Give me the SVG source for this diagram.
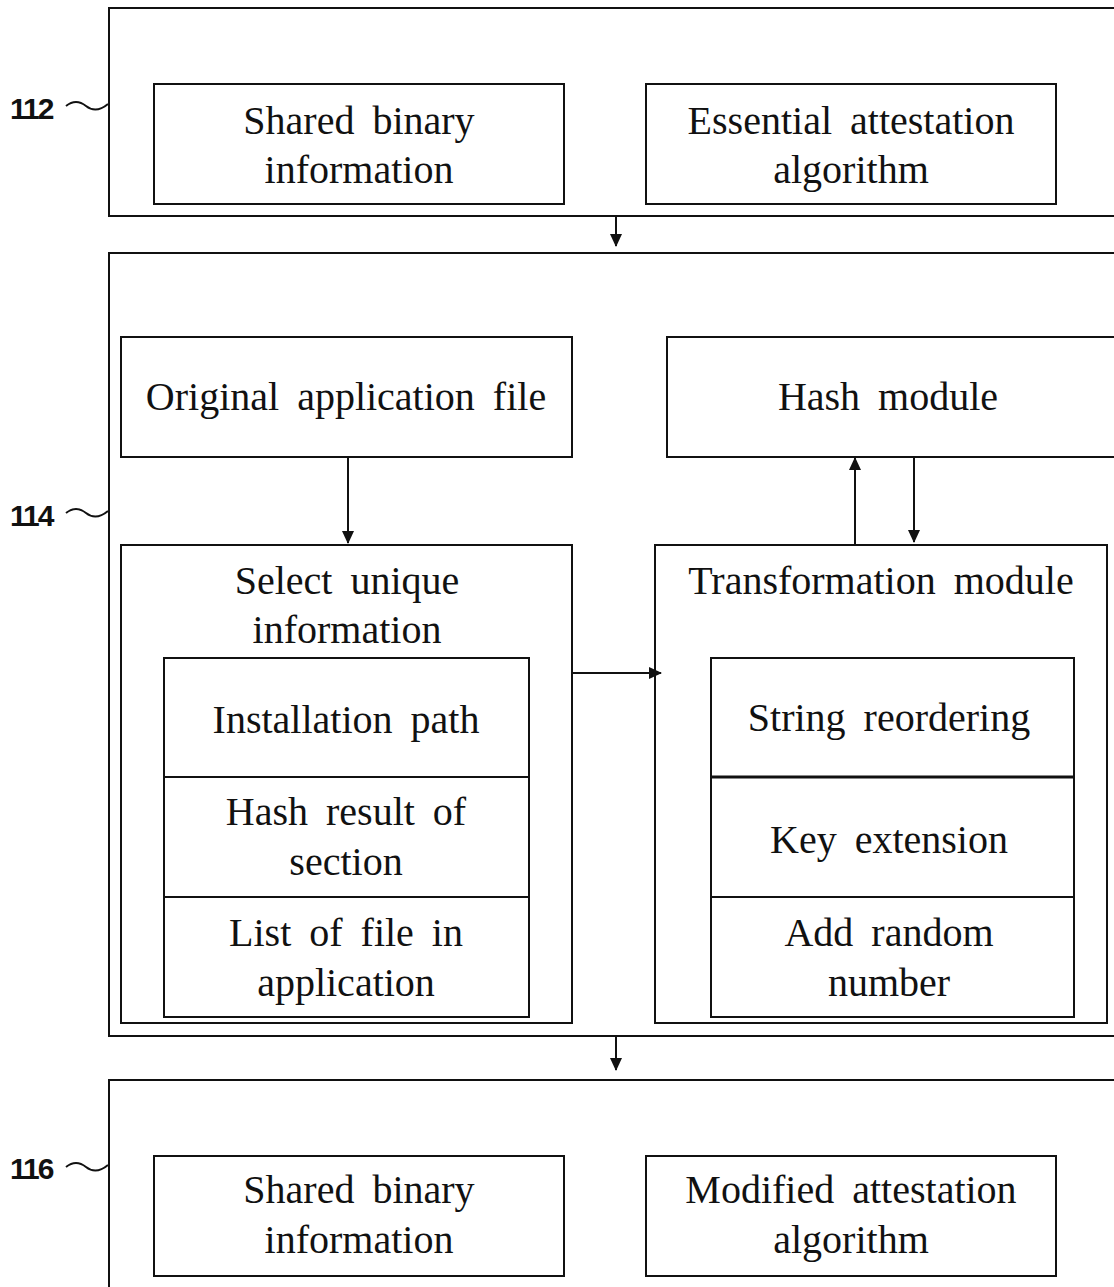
<svg xmlns="http://www.w3.org/2000/svg" width="1114" height="1287" viewBox="0 0 1114 1287">
<defs>
<style>
.box{fill:none;stroke:#111;stroke-width:2}
.t{font-family:"Liberation Serif","DejaVu Serif","Times New Roman",serif;font-size:40px;fill:#111;text-anchor:middle;word-spacing:8px}
.lbl{font-family:"Liberation Sans",Arial,sans-serif;font-size:30px;font-weight:bold;fill:#111;letter-spacing:-2px}
.c{fill:none;stroke:#111;stroke-width:2}
</style>
<marker id="ah" markerWidth="14" markerHeight="14" refX="12" refY="7" orient="auto" markerUnits="userSpaceOnUse">
<path d="M0,1 L13,7 L0,13 Z" fill="#111"/>
</marker>
</defs>
<rect width="1114" height="1287" fill="#fff"/>

<g id="block112">
<rect class="box" x="109" y="8" width="1020" height="208"/>
<text class="lbl" x="10" y="119">112</text>
<path class="c" d="M66,106 q10,-8 20,0 t22,-2"/>
</g>
<g id="shared1">
<rect class="box" x="154" y="84" width="410" height="120"/>
<text class="t" x="359" y="134">Shared binary</text>
<text class="t" x="359" y="183">information</text>
</g>
<g id="essential">
<rect class="box" x="646" y="84" width="410" height="120"/>
<text class="t" x="851" y="134">Essential attestation</text>
<text class="t" x="851" y="183">algorithm</text>
</g>

<g id="block114">
<rect class="box" x="109" y="253" width="1020" height="783"/>
<text class="lbl" x="10" y="526">114</text>
<path class="c" d="M66,513 q10,-8 20,0 t22,-2"/>
</g>
<g id="original">
<rect class="box" x="121" y="337" width="451" height="120"/>
<text class="t" x="346" y="410">Original application file</text>
</g>
<g id="hash">
<rect class="box" x="667" y="337" width="460" height="120"/>
<text class="t" x="888" y="410">Hash module</text>
</g>
<g id="select">
<rect class="box" x="121" y="545" width="451" height="478"/>
<text class="t" x="347" y="594">Select unique</text>
<text class="t" x="347" y="643">information</text>
<rect class="box" x="164" y="658" width="365" height="359"/>
<line class="box" x1="164" y1="777" x2="529" y2="777"/>
<line class="box" x1="164" y1="897" x2="529" y2="897"/>
<text class="t" x="346" y="733">Installation path</text>
<text class="t" x="346" y="825">Hash result of</text>
<text class="t" x="346" y="875">section</text>
<text class="t" x="346" y="946">List of file in</text>
<text class="t" x="346" y="996">application</text>
</g>
<g id="transform">
<rect class="box" x="655" y="545" width="452" height="478"/>
<text class="t" x="881" y="594">Transformation module</text>
<rect class="box" x="711" y="658" width="363" height="359"/>
<line x1="711" y1="777" x2="1074" y2="777" stroke="#111" stroke-width="3"/>
<line class="box" x1="711" y1="897" x2="1074" y2="897"/>
<text class="t" x="889" y="731">String reordering</text>
<text class="t" x="889" y="853">Key extension</text>
<text class="t" x="889" y="946">Add random</text>
<text class="t" x="889" y="996">number</text>
</g>

<g id="block116">
<rect class="box" x="109" y="1080" width="1020" height="220"/>
<text class="lbl" x="10" y="1179">116</text>
<path class="c" d="M66,1167 q10,-8 20,0 t22,-2"/>
</g>
<g id="shared2">
<rect class="box" x="154" y="1156" width="410" height="120"/>
<text class="t" x="359" y="1203">Shared binary</text>
<text class="t" x="359" y="1253">information</text>
</g>
<g id="modified">
<rect class="box" x="646" y="1156" width="410" height="120"/>
<text class="t" x="851" y="1203">Modified attestation</text>
<text class="t" x="851" y="1253">algorithm</text>
</g>

<g id="connectors">
<line class="c" x1="616" y1="216" x2="616" y2="246" marker-end="url(#ah)"/>
<line class="c" x1="616" y1="1036" x2="616" y2="1070" marker-end="url(#ah)"/>
<line class="c" x1="348" y1="457" x2="348" y2="543" marker-end="url(#ah)"/>
<line class="c" x1="572" y1="673" x2="661" y2="673" marker-end="url(#ah)"/>
<line class="c" x1="855" y1="545" x2="855" y2="458" marker-end="url(#ah)"/>
<line class="c" x1="914" y1="457" x2="914" y2="542" marker-end="url(#ah)"/>
</g>
</svg>
